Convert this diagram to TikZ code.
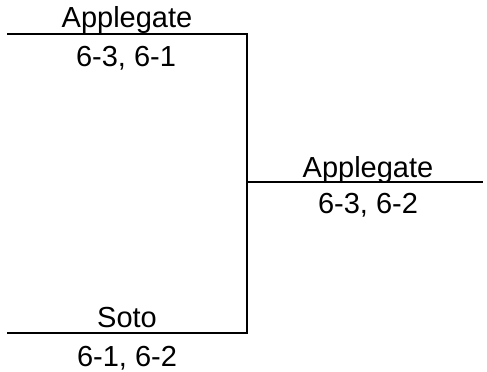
\documentclass[tikz,border=0pt]{standalone}
\usepackage{fontspec}
\setmainfont{Liberation Sans}
\usepackage{tikz}
\tikzset{
    bracket/.style={black,line width=1.5pt},
    player/.style={anchor=base,inner sep=0pt,font=\fontsize{16.5}{20}\selectfont},
    score/.style={player}
}

\begin{document}
\begin{tikzpicture}[x=0.02cm,y=-0.02cm]
\useasboundingbox(0,0)rectangle(487,372);
\coordinate(topL)at(7,34);
\coordinate(topR)at(247,34);
\coordinate(botL)at(7,333);
\coordinate(botR)at(247,333);
\coordinate(finL)at(247,182);
\coordinate(finR)at(483,182);
\draw[bracket](topL)--(topR)--(botR)--(botL);
\draw[bracket](finL)--(finR);

\node[player](p1)at(127,28){Applegate};
\node[score](s1)at(126,66){6-3, 6-1};
\node[player](p2)at(127,327){Soto};
\node[score](s2)at(127,366){6-1, 6-2};
\node[player](w)at(368,177){Applegate};
\node[score](ws)at(368,213){6-3, 6-2};
\end{tikzpicture}
\end{document}
